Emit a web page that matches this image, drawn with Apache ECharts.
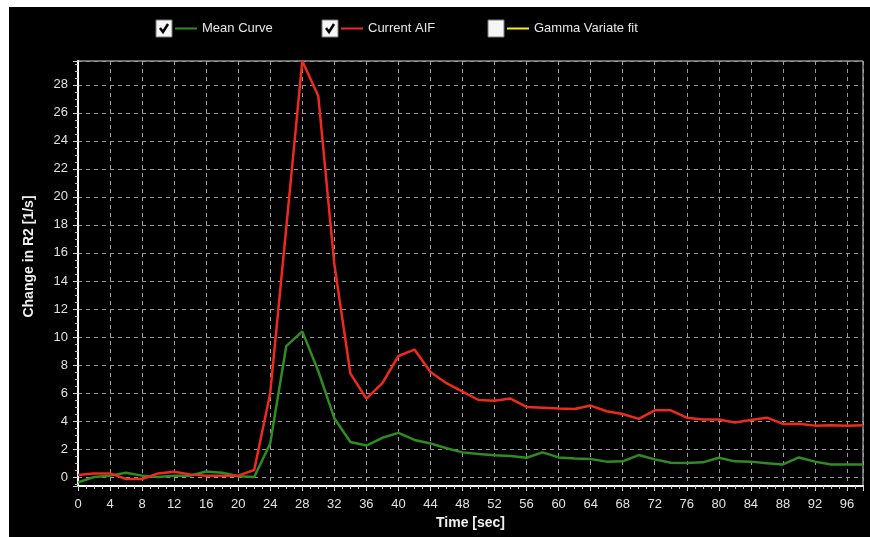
<!DOCTYPE html>
<html>
<head>
<meta charset="utf-8">
<title>AIF curves</title>
<script src="https://cdn.jsdelivr.net/npm/echarts@6/dist/echarts.min.js"></script>
<style>
  html, body { margin: 0; padding: 0; background: #fff; }
  #panel { position: absolute; left: 9px; top: 7px; width: 861px; height: 530px; background: #000; }
  #chart { position: absolute; left: 0; top: 0; width: 870px; height: 537px; }
</style>
</head>
<body>
<div id="panel"></div>
<div id="chart"></div>
<script>
// Sample times in seconds
const times = [0, 2, 4, 6, 8, 10, 12, 14, 16, 18, 20, 22, 24, 26, 28, 30, 32, 34, 36, 38,
               40, 42, 44, 46, 48, 50, 52, 54, 56, 58, 60, 62, 64, 66, 68, 70, 72, 74, 76, 78,
               80, 82, 84, 86, 88, 90, 92, 94, 96, 98];

// Mean tissue curve, change in R2 [1/s]
const meanCurve = [-0.38, 0.0, 0.1, 0.3, 0.1, 0.0, 0.1, 0.1, 0.4, 0.3, 0.05, 0.0, 2.4, 9.35, 10.4, 7.55, 4.2, 2.5, 2.25, 2.8,
                   3.15, 2.65, 2.4, 2.05, 1.76, 1.64, 1.55, 1.5, 1.38, 1.76, 1.4, 1.33, 1.29, 1.1, 1.12, 1.57, 1.26, 1.02, 1.0, 1.05,
                   1.38, 1.12, 1.1, 0.98, 0.9, 1.4, 1.1, 0.9, 0.9, 0.9];

// Arterial input function, change in R2 [1/s]
const currentAIF = [0.14, 0.26, 0.26, -0.14, -0.14, 0.26, 0.38, 0.19, 0.1, 0.1, 0.1, 0.5, 6.0, 17.8, 29.7, 27.2, 15.2, 7.4, 5.6, 6.7,
                    8.64, 9.1, 7.5, 6.7, 6.1, 5.5, 5.45, 5.6, 5.0, 4.95, 4.9, 4.86, 5.1, 4.7, 4.5, 4.15, 4.76, 4.76, 4.24, 4.1,
                    4.1, 3.9, 4.07, 4.24, 3.79, 3.8, 3.67, 3.7, 3.67, 3.7];

// Gamma variate fit (not computed yet)
const gammaFit = [];

const seriesNames = ['Mean Curve', 'Current AIF', 'Gamma Variate fit'];
const seriesColors = ['#2f8c22', '#ee2a1c', '#f2f20a'];
const checked = [true, true, false];

const FONT = '"Liberation Sans", Arial, sans-serif';
const pair = (vals) => vals.map((v, i) => [times[i], v]);

// Legend rows: checkbox, coloured line, label
const legendLeft = [175, 341, 507];
const legends = seriesNames.map((name, i) => ({
  data: [name],
  left: legendLeft[i],
  top: 22,
  padding: 0,
  icon: 'rect',
  itemWidth: 22,
  itemHeight: 2,
  selectedMode: false,
  textStyle: { color: '#e6e6e6', fontSize: 13, fontFamily: FONT }
}));

const checkboxes = [];
legendLeft.forEach((x, i) => {
  const bx = x - 19, by = 20;
  checkboxes.push({
    type: 'rect',
    shape: { x: bx, y: by, width: 16, height: 17 },
    style: { fill: '#f5f5f5', stroke: '#7a7a7a', lineWidth: 1 }
  });
  if (checked[i]) {
    checkboxes.push({
      type: 'polyline',
      shape: { points: [[bx + 4, by + 8], [bx + 7, by + 12], [bx + 12, by + 4]] },
      style: { stroke: '#000', lineWidth: 2.5, fill: null }
    });
  }
});

const gridLine = { show: true, lineStyle: { color: '#9a9a9a', type: [4, 4], width: 1 } };

const chart = echarts.init(document.getElementById('chart'));
chart.setOption({
  backgroundColor: 'transparent',
  animation: false,
  textStyle: { fontFamily: FONT },
  legend: legends,
  graphic: checkboxes,
  grid: {
    left: 78, top: 61, right: 7, bottom: 51,
    show: true, borderColor: '#d8d8d8', borderWidth: 1, backgroundColor: 'transparent'
  },
  xAxis: {
    type: 'value',
    min: 0, max: 98, interval: 4,
    name: 'Time [sec]',
    nameLocation: 'middle',
    nameGap: 29,
    nameTextStyle: { color: '#f0f0f0', fontSize: 14, fontWeight: 'bold', fontFamily: FONT },
    axisLine: { show: true, onZero: false, lineStyle: { color: '#ffffff', width: 2 } },
    axisTick: { show: true, length: 5, lineStyle: { color: '#cfcfcf' } },
    minorTick: { show: true, splitNumber: 4, length: 3, lineStyle: { color: '#bdbdbd' } },
    axisLabel: { color: '#e0e0e0', fontSize: 13, margin: 12, showMaxLabel: false, fontFamily: FONT },
    splitLine: gridLine
  },
  yAxis: {
    type: 'value',
    min: -0.64, max: 29.7, splitNumber: 15,
    name: 'Change in R2 [1/s]',
    nameLocation: 'middle',
    nameGap: 42,
    nameRotate: 90,
    nameTextStyle: { color: '#f0f0f0', fontSize: 14, fontWeight: 'bold', fontFamily: FONT, padding: [0, 0, 0, 34] },
    axisLine: { show: true, onZero: false, lineStyle: { color: '#ffffff', width: 2 } },
    axisTick: { show: true, length: 5, lineStyle: { color: '#cfcfcf' } },
    minorTick: { show: true, splitNumber: 4, length: 3, lineStyle: { color: '#bdbdbd' } },
    axisLabel: {
      color: '#e0e0e0', fontSize: 13, margin: 10, fontFamily: FONT,
      showMinLabel: false, showMaxLabel: false
    },
    splitLine: gridLine
  },
  series: [
    { name: seriesNames[0], type: 'line', data: pair(meanCurve), showSymbol: false, z: 3,
      lineStyle: { color: seriesColors[0], width: 2.5 }, itemStyle: { color: seriesColors[0] } },
    { name: seriesNames[1], type: 'line', data: pair(currentAIF), showSymbol: false, z: 4,
      lineStyle: { color: seriesColors[1], width: 2.5 }, itemStyle: { color: seriesColors[1] } },
    { name: seriesNames[2], type: 'line', data: gammaFit, showSymbol: false, z: 5,
      lineStyle: { color: seriesColors[2], width: 2.5 }, itemStyle: { color: seriesColors[2] } }
  ]
});
</script>
</body>
</html>
